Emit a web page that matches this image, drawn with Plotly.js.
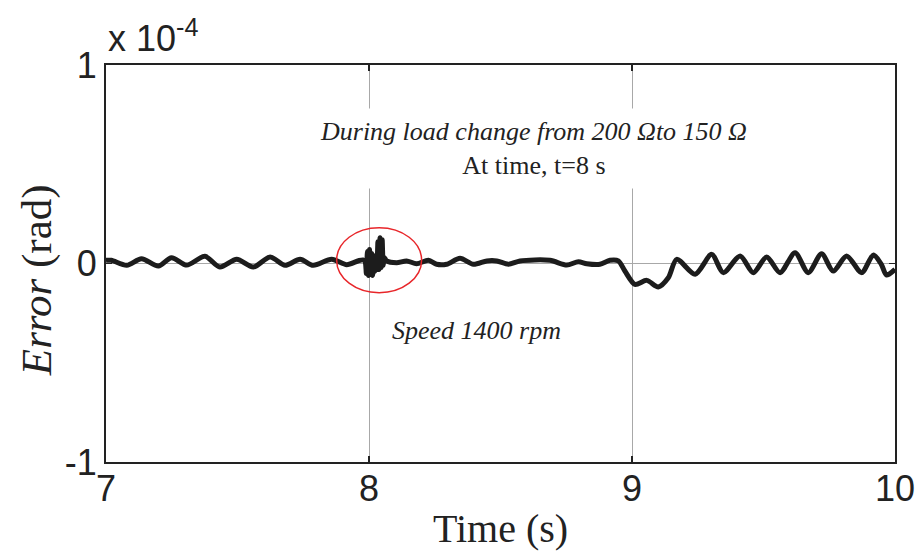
<!DOCTYPE html>
<html>
<head>
<meta charset="utf-8">
<script src="https://cdn.plot.ly/plotly-3.0.1.min.js"></script>
<style>html,body{margin:0;padding:0;background:#fff;}#chart{width:919px;height:560px;}</style>
</head>
<body>
<div id="chart"></div>
<script>
// Time (s)
const time = [7.000, 7.020, 7.079, 7.135, 7.199, 7.249, 7.307, 7.376, 7.433, 7.497,
  7.560, 7.624, 7.681, 7.738, 7.788, 7.858, 7.915, 7.960, 7.977, 7.985,
  7.990, 7.994, 7.998, 8.002, 8.006, 8.010, 8.014, 8.018, 8.022, 8.026,
  8.030, 8.034, 8.038, 8.042, 8.046, 8.050, 8.054, 8.058, 8.067, 8.105,
  8.143, 8.181, 8.226, 8.257, 8.295, 8.346, 8.397, 8.448, 8.486, 8.530,
  8.574, 8.688, 8.752, 8.796, 8.828, 8.878, 8.916, 8.948, 8.973, 9.011,
  9.056, 9.100, 9.138, 9.170, 9.240, 9.303, 9.347, 9.411, 9.461, 9.512,
  9.563, 9.620, 9.670, 9.721, 9.765, 9.816, 9.873, 9.918, 9.948, 9.968,
  10.000];
// Error in units of 1e-4 rad
const errorE4 = [0.016, 0.016, -0.009, 0.024, -0.013, 0.029, -0.008, 0.036, -0.018, 0.021,
  -0.018, 0.033, -0.009, 0.021, -0.009, 0.021, -0.006, 0.014, 0.018, 0.010,
  -0.050, 0.060, -0.060, 0.070, -0.050, 0.050, -0.060, 0.040, -0.040, 0.020,
  -0.030, 0.110, -0.030, 0.130, -0.020, 0.120, -0.010, 0.030, 0.013, 0.004,
  0.013, -0.001, 0.016, -0.004, -0.004, 0.026, -0.004, 0.013, 0.013, -0.004,
  0.013, 0.016, -0.008, 0.009, -0.001, -0.004, 0.016, 0.013, -0.038, -0.105,
  -0.085, -0.118, -0.072, 0.021, -0.054, 0.046, -0.046, 0.038, -0.046, 0.033,
  -0.046, 0.054, -0.046, 0.049, -0.038, 0.038, -0.046, 0.043, -0.004, -0.058,
  -0.029];

const xTicks = [7, 8, 9, 10];
const xTickText = ['7', '8', '9', '10'];
const yTicks = [-1, 0, 1];
const yTickText = ['-1', '0', '1'];

const noteLoad = '<i>During load change from 200 \u03A9to 150 \u03A9</i><br>At time, t=8 s';
const noteSpeed = '<i>Speed 1400 rpm</i>';
const expLabel = 'x 10<sup>-4</sup>';
const yTitle = '<i>Error</i> (rad)';

const trace = {
  x: time, y: errorE4, type: 'scatter', mode: 'lines',
  line: {color: '#1c1c1c', width: 5, shape: 'spline', smoothing: 0.8},
  hoverinfo: 'skip', showlegend: false
};

const sans = 'Liberation Sans, Arial, sans-serif';
const serif = 'Liberation Serif, Times New Roman, serif';
const tickFont = {family: sans, size: 36, color: '#222'};

const layout = {
  width: 919, height: 560,
  margin: {l: 106, r: 24, t: 65, b: 98},
  paper_bgcolor: '#fff', plot_bgcolor: '#fff',
  xaxis: {
    range: [7, 10], tickvals: xTicks, ticktext: xTickText,
    ticks: 'inside', ticklen: 6, tickwidth: 1.5, tickcolor: '#222',
    showline: true, linecolor: '#222', linewidth: 2, mirror: 'ticks',
    showgrid: true, gridcolor: '#a8a8a8', gridwidth: 1, zeroline: false,
    tickfont: tickFont, ticklabelstandoff: -6,
    title: {text: 'Time (s)', font: {family: serif, size: 40, color: '#222'}, standoff: 6}
  },
  yaxis: {
    range: [-1, 1], tickvals: yTicks, ticktext: yTickText,
    ticks: 'inside', ticklen: 6, tickwidth: 1.5, tickcolor: '#222',
    showline: true, linecolor: '#222', linewidth: 2, mirror: 'ticks',
    showgrid: true, gridcolor: '#a8a8a8', gridwidth: 1, zeroline: false,
    tickfont: tickFont
  },
  shapes: [
    {type: 'circle', xref: 'x', yref: 'y', x0: 7.877, x1: 8.200, y0: -0.147, y1: 0.180,
     line: {color: '#e8262a', width: 1.5}}
  ],
  annotations: [
    {x: 8.624, y: 0.58, xref: 'x', yref: 'y', text: noteLoad, showarrow: false,
     font: {family: serif, size: 26, color: '#222'}, bgcolor: '#fff', borderpad: 8, align: 'center'},
    {x: 8.407, y: -0.34, xref: 'x', yref: 'y', text: noteSpeed, showarrow: false,
     font: {family: serif, size: 26, color: '#222'}},
    {x: 0, y: 1, xref: 'paper', yref: 'paper', xanchor: 'left', yanchor: 'bottom', yshift: 4,
     text: expLabel, showarrow: false, font: {family: sans, size: 36, color: '#222'}},
    {x: -0.0875, y: 0.458, xref: 'paper', yref: 'paper', xanchor: 'center', yanchor: 'middle',
     textangle: -90, text: yTitle, showarrow: false, font: {family: serif, size: 43, color: '#222'}}
  ]
};

Plotly.newPlot('chart', [trace], layout, {displayModeBar: false, staticPlot: true});
</script>
</body>
</html>
